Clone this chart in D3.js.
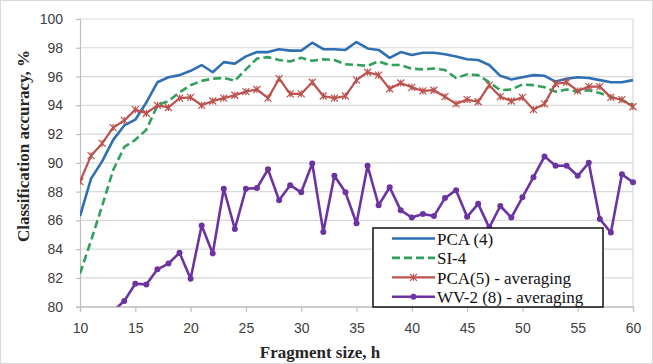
<!DOCTYPE html>
<html>
<head>
<meta charset="utf-8">
<script src="https://cdn.jsdelivr.net/npm/d3@7"></script>
<style>
  body { margin: 0; background: #fff; }
  .tick text { font-family: "Liberation Sans", Arial, sans-serif; font-size: 14px; fill: #404040; }
</style>
</head>
<body>
<div id="chart"></div>
<script>
// fragment sizes (h) for the first three series
const sizes = [10, 11, 12, 13, 14, 15, 16, 17, 18, 19, 20, 21, 22, 23, 24, 25, 26, 27, 28, 29, 30,
    31, 32, 33, 34, 35, 36, 37, 38, 39, 40, 41, 42, 43, 44, 45, 46, 47, 48, 49, 50,
    51, 52, 53, 54, 55, 56, 57, 58, 59, 60];

const pca4 = [86.3, 88.9, 90.1, 91.6, 92.6, 93.0, 94.2, 95.6, 95.95, 96.1, 96.4, 96.8, 96.3, 97.0, 96.9, 97.4,
    97.7, 97.7, 97.9, 97.8, 97.8, 98.35, 97.9, 97.9, 97.85, 98.4, 97.95, 97.85, 97.3, 97.7, 97.5,
    97.65, 97.65, 97.55, 97.4, 97.2, 97.15, 96.8, 96.05, 95.8, 95.95, 96.1, 96.05, 95.65, 95.85,
    95.95, 95.9, 95.75, 95.6, 95.6, 95.75];

const si4 = [82.3, 84.6, 87.0, 89.5, 91.1, 91.6, 92.3, 94.0, 94.3, 94.9, 95.4, 95.7, 95.85, 95.9, 95.7, 96.5,
    97.25, 97.35, 97.15, 97.05, 97.3, 97.1, 97.2, 97.15, 96.85, 96.8, 96.75, 97.05, 96.8, 96.8, 96.55,
    96.5, 96.55, 96.45, 95.9, 96.15, 96.1, 95.6, 95.05, 95.1, 95.45, 95.4, 95.25, 94.95, 95.1,
    94.95, 95.05, 94.85, 94.6, 94.35, 94.05];

const pca5avg = [88.7, 90.5, 91.35, 92.45, 92.95, 93.7, 93.45, 94.0, 93.85, 94.5, 94.55, 94.0, 94.3, 94.5, 94.7, 94.95,
    95.1, 94.5, 95.85, 94.8, 94.8, 95.6, 94.65, 94.5, 94.65, 95.75, 96.3, 96.1, 95.15, 95.55, 95.25,
    95.0, 95.05, 94.6, 94.1, 94.4, 94.25, 95.4, 94.6, 94.3, 94.55, 93.7, 94.1, 95.5, 95.6,
    95.0, 95.3, 95.3, 94.55, 94.4, 93.9];

// WV-2 series starts at 13 h (first point lies under the axis minimum)
const wvSizes = [13, 14, 15, 16, 17, 18, 19, 20, 21, 22, 23, 24, 25, 26, 27, 28, 29, 30,
    31, 32, 33, 34, 35, 36, 37, 38, 39, 40, 41, 42, 43, 44, 45, 46, 47, 48, 49, 50,
    51, 52, 53, 54, 55, 56, 57, 58, 59, 60];
const wv2avg = [79.7, 80.4, 81.6, 81.55, 82.6, 83.0, 83.75, 81.95, 85.65, 83.7, 88.2, 85.4, 88.2, 88.25, 89.55,
    87.4, 88.45, 87.95, 89.95, 85.2, 89.1, 87.95, 85.8, 89.8, 87.05, 88.3, 86.7, 86.2, 86.45, 86.3,
    87.55, 88.1, 86.25, 87.15, 85.5, 87.0, 86.2, 87.6, 89.0, 90.45, 89.8, 89.8, 89.1, 90.0,
    86.1, 85.15, 89.2, 88.65];

const xTicks = [10, 15, 20, 25, 30, 35, 40, 45, 50, 55, 60];
const yTicks = [80, 82, 84, 86, 88, 90, 92, 94, 96, 98, 100];

const W = 653, H = 364;
const plot = { left: 80, right: 633, top: 19, bottom: 306.7 };

const svg = d3.select("#chart").append("svg")
    .attr("width", W)
    .attr("height", H);

svg.append("rect")
    .attr("x", 0.5).attr("y", 0.5)
    .attr("width", W - 1).attr("height", H - 1)
    .attr("fill", "#fff")
    .attr("stroke", "#d9d9d9");

const x = d3.scaleLinear().domain([10, 60]).range([plot.left, plot.right]);
const y = d3.scaleLinear().domain([80, 100]).range([plot.bottom, plot.top]);

// gridlines
svg.append("g")
    .selectAll("line")
    .data(yTicks)
    .join("line")
    .attr("x1", plot.left).attr("x2", plot.right)
    .attr("y1", d => y(d)).attr("y2", d => y(d))
    .attr("stroke", "#d9d9d9")
    .attr("stroke-width", 1.2);

svg.append("line")
    .attr("x1", plot.right).attr("x2", plot.right)
    .attr("y1", plot.top).attr("y2", plot.bottom)
    .attr("stroke", "#d9d9d9")
    .attr("stroke-width", 1.2);

const xAxis = svg.append("g")
    .attr("transform", `translate(0,${plot.bottom})`)
    .call(d3.axisBottom(x).tickValues(xTicks).tickSize(5).tickPadding(11));
const yAxis = svg.append("g")
    .attr("transform", `translate(${plot.left},0)`)
    .call(d3.axisLeft(y).tickValues(yTicks).tickSize(4).tickPadding(13));

[xAxis, yAxis].forEach(a => {
    a.select(".domain").attr("stroke", "#bfbfbf").attr("stroke-width", 1.2);
    a.selectAll(".tick line").attr("stroke", "#bfbfbf").attr("stroke-width", 1.2);
});

// axis titles
svg.append("text")
    .attr("x", 320).attr("y", 352)
    .attr("text-anchor", "middle")
    .attr("dominant-baseline", "central")
    .attr("font-family", "Liberation Serif, Times New Roman, serif")
    .attr("font-weight", "bold")
    .attr("font-size", 17)
    .attr("fill", "#262626")
    .text("Fragment size, h");

svg.append("text")
    .attr("transform", "translate(23,146) rotate(-90)")
    .attr("text-anchor", "middle")
    .attr("dominant-baseline", "central")
    .attr("font-family", "Liberation Serif, Times New Roman, serif")
    .attr("font-weight", "bold")
    .attr("font-size", 17)
    .attr("fill", "#262626")
    .text("Classification accuracy, %");

svg.append("clipPath").attr("id", "clip")
    .append("rect")
    .attr("x", plot.left).attr("y", plot.top - 3)
    .attr("width", plot.right - plot.left + 4)
    .attr("height", plot.bottom - plot.top + 3);

const series = [
    { name: "PCA (4)", xs: sizes, ys: pca4, color: "#2f6fb3", dash: null, marker: null, width: 2.6 },
    { name: "SI-4", xs: sizes, ys: si4, color: "#31a05a", dash: "8,4", marker: null, width: 2.6 },
    { name: "PCA(5) - averaging", xs: sizes, ys: pca5avg, color: "#bb524e", dash: null, marker: "star", width: 2.2 },
    { name: "WV-2 (8) - averaging", xs: wvSizes, ys: wv2avg, color: "#6c34a2", dash: null, marker: "dot", width: 2.6 }
];

const line = d3.line().x(d => x(d[0])).y(d => y(d[1]));

const drawMarker = (g, kind, cx, cy, color) => {
    if (kind === "star") {
        const s = 3.5;
        g.append("path")
            .attr("d", `M${cx - s},${cy - s}L${cx + s},${cy + s}M${cx - s},${cy + s}L${cx + s},${cy - s}M${cx},${cy - s}L${cx},${cy + s}`)
            .attr("stroke", color)
            .attr("stroke-width", 1.2)
            .attr("fill", "none");
    } else if (kind === "dot") {
        g.append("circle")
            .attr("cx", cx).attr("cy", cy).attr("r", 3)
            .attr("fill", color);
    }
};

const plotG = svg.append("g").attr("clip-path", "url(#clip)");

series.forEach(s => {
    const pts = s.xs.map((v, i) => [v, s.ys[i]]);
    plotG.append("path")
        .datum(pts)
        .attr("d", line)
        .attr("fill", "none")
        .attr("stroke", s.color)
        .attr("stroke-width", s.width)
        .attr("stroke-dasharray", s.dash)
        .attr("stroke-linejoin", "round");
    if (s.marker) {
        const mg = plotG.append("g");
        pts.forEach(p => drawMarker(mg, s.marker, x(p[0]), y(p[1]), s.color));
    }
});

// legend
const legend = svg.append("g");
legend.append("rect")
    .attr("x", 373).attr("y", 228)
    .attr("width", 230).attr("height", 79)
    .attr("fill", "#fff")
    .attr("stroke", "#111")
    .attr("stroke-width", 1.5);

series.forEach((s, i) => {
    const ly = 238.5 + i * 19.4;
    legend.append("line")
        .attr("x1", 392).attr("x2", 435)
        .attr("y1", ly).attr("y2", ly)
        .attr("stroke", s.color)
        .attr("stroke-width", s.width)
        .attr("stroke-dasharray", s.dash);
    if (s.marker) drawMarker(legend, s.marker, 413.5, ly, s.color);
    legend.append("text")
        .attr("x", 437).attr("y", ly + 1)
        .attr("dominant-baseline", "central")
        .attr("font-family", "Liberation Serif, Times New Roman, serif")
        .attr("font-size", 17)
        .attr("fill", "#111")
        .text(s.name);
});
</script>
</body>
</html>
